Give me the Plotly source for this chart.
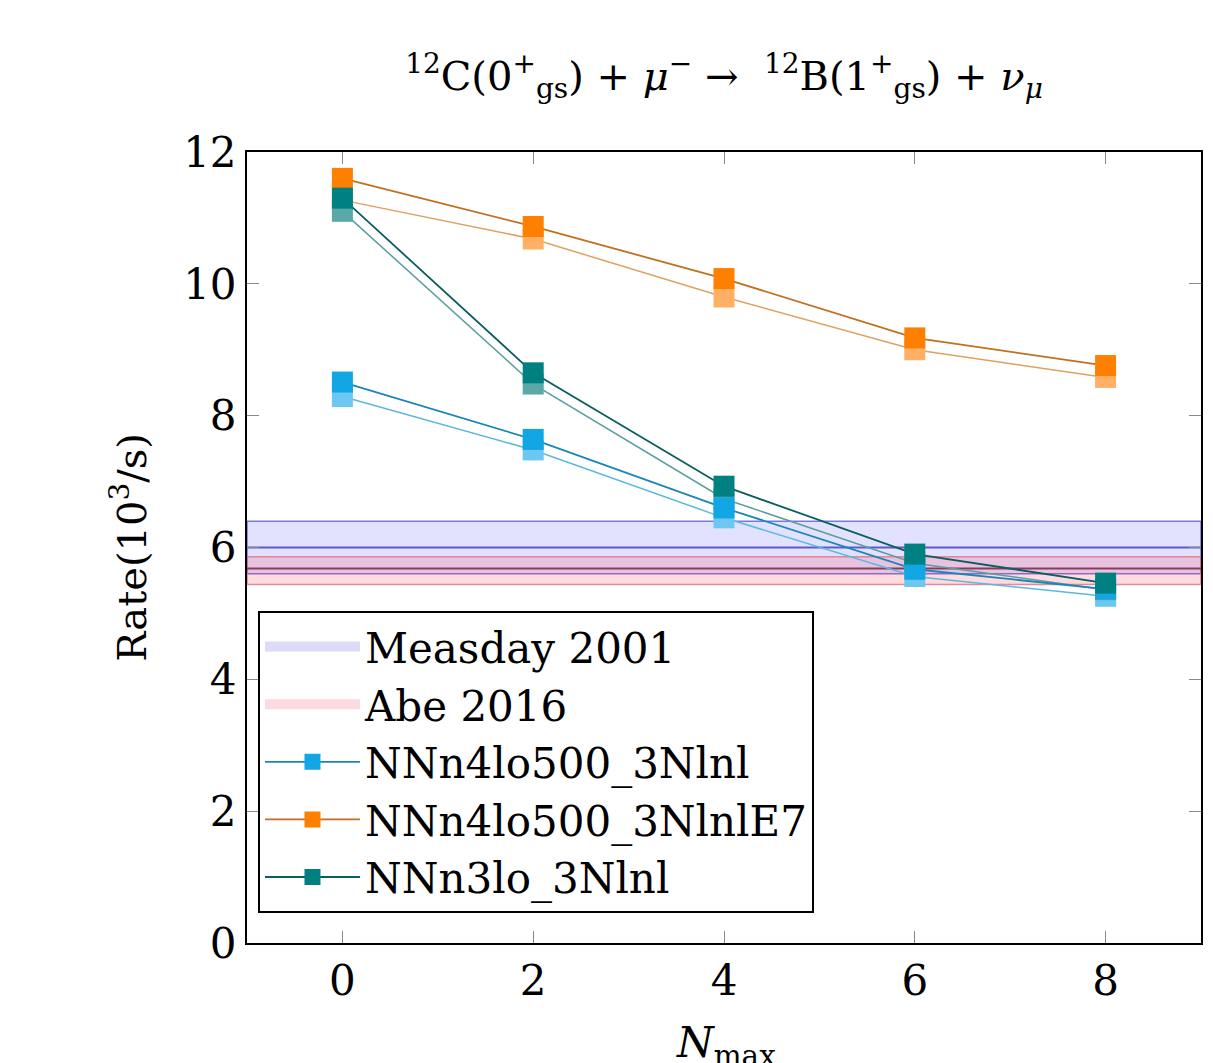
import plotly.graph_objects as go

nmax = [0, 2, 4, 6, 8]

# NNn4lo500_3Nlnl (sky blue)
sky_main = [8.51, 7.64, 6.60, 5.67, 5.37]
sky_alt = [8.29, 7.48, 6.45, 5.56, 5.26]
# NNn4lo500_3NlnlE7 (orange)
orange_main = [11.60, 10.87, 10.08, 9.18, 8.76]
orange_alt = [11.27, 10.68, 9.80, 9.00, 8.58]
# NNn3lo_3Nlnl (teal)
teal_main = [11.30, 8.65, 6.93, 5.90, 5.46]
teal_alt = [11.10, 8.48, 6.74, 5.76, 5.36]

measday_center, measday_lo, measday_hi = 6.0, 5.6, 6.4
abe_center, abe_lo, abe_hi = 5.68, 5.44, 5.86

x_range = [-1, 9]
serif = "DejaVu Serif"

fig = go.Figure()

# legend-only entries for the bands (large patches)
fig.add_trace(go.Scatter(x=[None], y=[None], mode="lines", name="Measday 2001",
                         line=dict(color="#dcdcfa", width=28), legendgroup="m"))
fig.add_trace(go.Scatter(x=[None], y=[None], mode="lines", name="Abe 2016",
                         line=dict(color="#fcdadf", width=28), legendgroup="a"))

# bands
fig.add_trace(go.Scatter(
    x=[x_range[0], x_range[1], x_range[1], x_range[0], x_range[0]],
    y=[measday_lo, measday_lo, measday_hi, measday_hi, measday_lo],
    fill="toself", fillcolor="rgba(60,60,255,0.15)",
    line=dict(color="rgba(90,90,220,0.8)", width=1.5),
    mode="lines", showlegend=False, legendgroup="m", hoverinfo="skip"))
fig.add_trace(go.Scatter(
    x=[x_range[0], x_range[1], x_range[1], x_range[0], x_range[0]],
    y=[abe_lo, abe_lo, abe_hi, abe_hi, abe_lo],
    fill="toself", fillcolor="rgba(255,40,70,0.17)",
    line=dict(color="rgba(225,110,130,0.8)", width=1.5),
    mode="lines", showlegend=False, legendgroup="a", hoverinfo="skip"))
fig.add_trace(go.Scatter(x=x_range, y=[measday_center] * 2, mode="lines",
                         line=dict(color="#5a5ac8", width=2), showlegend=False))
fig.add_trace(go.Scatter(x=x_range, y=[abe_center] * 2, mode="lines",
                         line=dict(color="#8a3a5a", width=2), showlegend=False))

series = [
    ("NNn4lo500_3Nlnl", sky_main, sky_alt, "#12a6e4", "#1a86b8", "#6cc8f0", "#5ab8de"),
    ("NNn4lo500_3NlnlE7", orange_main, orange_alt, "#ff7f00", "#c07020", "#ffb065", "#e0a060"),
    ("NNn3lo_3Nlnl", teal_main, teal_alt, "#008080", "#0a5e5e", "#5aa8a8", "#5a9ea0"),
]

# light (alternate) series first
for name, main, alt, mc, lc, amc, alc in series:
    fig.add_trace(go.Scatter(
        x=nmax, y=alt, mode="lines+markers", showlegend=False,
        line=dict(color=alc, width=1.5),
        marker=dict(symbol="square", size=21, color=amc)))

for name, main, alt, mc, lc, amc, alc in series:
    fig.add_trace(go.Scatter(
        x=nmax, y=main, mode="lines+markers", name=name,
        line=dict(color=lc, width=1.8),
        marker=dict(symbol="square", size=21, color=mc)))

W, H = 1205, 1055  # page body adds an 8px offset
fig.update_layout(
    width=W, height=H,
    margin=dict(l=239, r=10, t=144, b=120),
    paper_bgcolor="white", plot_bgcolor="white",
    font=dict(family=serif, size=42, color="black"),
    title=dict(
        text="<sup>12</sup>C(0<sup>+</sup><sub>gs</sub>) + <i>μ</i><sup>−</sup> →  <sup>12</sup>B(1<sup>+</sup><sub>gs</sub>) + <i>ν</i><sub><i>μ</i></sub>",
        x=0.5, xref="paper", xanchor="center",
        y=1 - 68 / H, yref="container", yanchor="middle",
        font=dict(family=serif, size=40)),
    showlegend=True,
    legend=dict(
        x=0.0115, y=0.42, xanchor="left", yanchor="top",
        bgcolor="white", bordercolor="black", borderwidth=2,
        font=dict(family=serif, size=42),
        itemwidth=95, tracegroupgap=0),
    xaxis=dict(range=x_range, tickvals=nmax, ticks="inside", ticklen=12,
               tickcolor="#888", showgrid=False, zeroline=False,
               showline=True, linecolor="black", linewidth=2, mirror="allticks",
               tickfont=dict(family=serif, size=42)),
    yaxis=dict(range=[0, 12], tickvals=[0, 2, 4, 6, 8, 10, 12], ticks="inside",
               ticklen=12, tickcolor="#888", showgrid=False, zeroline=False,
               showline=True, linecolor="black", linewidth=2, mirror="allticks",
               tickfont=dict(family=serif, size=42)),
    annotations=[
        dict(text="<i>N</i><sub>max</sub>", xref="paper", yref="paper",
             x=0.502, y=(943 - 1045) / 791, xanchor="center", yanchor="middle",
             showarrow=False, font=dict(family=serif, size=42)),
        dict(text="Rate(10<sup>3</sup>/s)", xref="paper", yref="paper",
             x=(128 - 247) / 956, y=0.5, xanchor="center", yanchor="middle",
             textangle=-90, showarrow=False, font=dict(family=serif, size=40)),
    ],
)

fig.write_html("out.html")
